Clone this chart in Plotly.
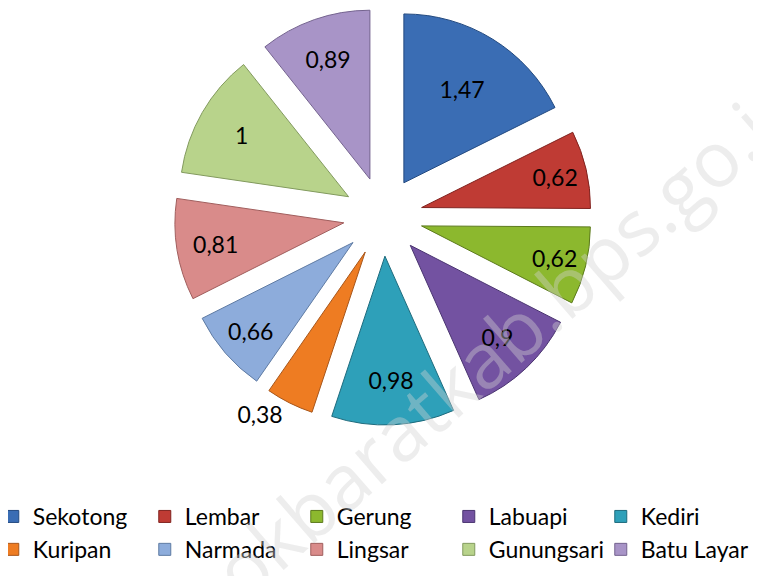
import plotly.graph_objects as go

kecamatan = ['Sekotong', 'Lembar', 'Gerung', 'Labuapi', 'Kediri',
             'Kuripan', 'Narmada', 'Lingsar', 'Gunungsari', 'Batu Layar']
nilai = [1.47, 0.62, 0.62, 0.9, 0.98, 0.38, 0.66, 0.81, 1, 0.89]

warna = ['#3A6DB4', '#BF3B34', '#8CB82E', '#7352A1', '#2EA0B9',
         '#EE7C22', '#8DACDB', '#D98B8A', '#B8D38B', '#A894C7']
garis = ['#234A80', '#80231F', '#5C7A1C', '#4A3470', '#1D6B7D',
         '#A8561A', '#5F7BA3', '#A05E5D', '#829A5E', '#74638F']

label = [f'{v:g}'.replace('.', ',') for v in nilai]
posisi = ['inside'] * len(nilai)
posisi[kecamatan.index('Kuripan')] = 'outside'

fig = go.Figure()
fig.add_trace(go.Pie(labels=kecamatan, values=nilai,
                     text=label, textinfo='text',
                     textposition=posisi,
                     insidetextorientation='horizontal',
                     textfont=dict(family='Lato', size=23, color='black'),
                     sort=False, direction='clockwise', rotation=0,
                     pull=0.235,
                     marker=dict(colors=warna, line=dict(color=garis, width=1)),
                     domain=dict(x=[0.2168, 0.7687], y=[0.1437, 1.0]),
                     hoverinfo='label+value'))

# watermark
fig.add_annotation(text='lombokbaratkab.bps.go.id', xref='paper', yref='paper',
                   x=431 / 761, y=1 - 387 / 487, xanchor='center', yanchor='middle',
                   showarrow=False, textangle=-41,
                   font=dict(family='Open Sans', size=77, color='rgba(210,210,210,0.4)'))

fig.update_layout(width=761, height=576,
                  margin=dict(l=0, r=0, t=0, b=89, autoexpand=False),
                  paper_bgcolor='white', plot_bgcolor='white',
                  uniformtext=dict(minsize=23, mode='show'),
                  showlegend=True,
                  legend=dict(orientation='h', x=-0.02, y=0, xanchor='left', yanchor='top',
                              entrywidth=107, itemwidth=30, traceorder='normal',
                              font=dict(family='Lato', size=23, color='black')))

fig.write_html("out.html")
